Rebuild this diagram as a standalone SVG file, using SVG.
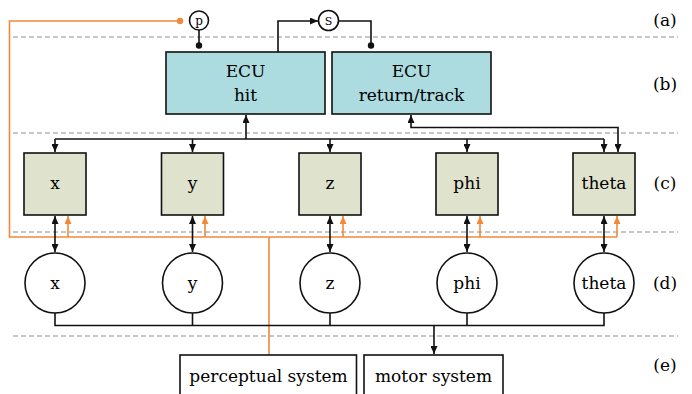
<svg xmlns="http://www.w3.org/2000/svg" width="692" height="394" viewBox="0 0 692 394">
<style>
text{font-family:'DejaVu Serif','Liberation Serif',serif;font-size:17px;fill:#000;text-anchor:middle}
.small{font-size:12px}
.sep{stroke:#b4b4b4;stroke-width:1.3;stroke-dasharray:5 3;fill:none}
.ln{stroke:#111;stroke-width:1.6;fill:none}
.or{stroke:#f08a3a;stroke-width:1.6;fill:none}
.ecu{fill:#acdce0;stroke:#111;stroke-width:1.6}
.var{fill:#dfe2cc;stroke:#111;stroke-width:1.6}
.circ{fill:#fff;stroke:#111;stroke-width:1.6}
.sys{fill:#fff;stroke:#111;stroke-width:1.6}
</style>
<defs>
<marker id="a" markerUnits="userSpaceOnUse" markerWidth="9" markerHeight="7" refX="8" refY="3.5" orient="auto-start-reverse"><path d="M0,0 L8,3.5 L0,7 z" fill="#111"/></marker>
<marker id="ao" markerUnits="userSpaceOnUse" markerWidth="9" markerHeight="7" refX="8" refY="3.5" orient="auto-start-reverse"><path d="M0,0 L8,3.5 L0,7 z" fill="#f08a3a"/></marker>
</defs>
<g id="separators">
<line class="sep" x1="13" y1="37" x2="678" y2="37"/>
<line class="sep" x1="13" y1="133" x2="678" y2="133"/>
<line class="sep" x1="13" y1="232" x2="678" y2="232"/>
<line class="sep" x1="13" y1="336" x2="678" y2="336"/>
</g>
<g id="row-labels">
<text x="665" y="26">(a)</text>
<text x="665" y="90">(b)</text>
<text x="665" y="189">(c)</text>
<text x="665" y="289">(d)</text>
<text x="665" y="371">(e)</text>
</g>
<g id="connectors">
<path class="or" d="M180,21 H9.5 V237 H617"/>
<circle cx="180" cy="21" r="3.2" fill="#f08a3a"/>
<path class="or" d="M269,237 V355"/>
<path class="or" d="M68,237 V216" marker-end="url(#ao)"/>
<path class="or" d="M205,237 V216" marker-end="url(#ao)"/>
<path class="or" d="M343,237 V216" marker-end="url(#ao)"/>
<path class="or" d="M480,237 V216" marker-end="url(#ao)"/>
<path class="or" d="M617,237 V216" marker-end="url(#ao)"/>
<path class="ln" d="M199,30 V45"/>
<circle cx="199" cy="45.5" r="3.2" fill="#111"/>
<path class="ln" d="M278,52 V21 H318" marker-end="url(#a)"/>
<path class="ln" d="M338.5,21 H371 V45"/>
<circle cx="371" cy="45.5" r="3.2" fill="#111"/>
<path class="ln" d="M55,139 H604"/>
<path class="ln" d="M246,139 V115" marker-end="url(#a)"/>
<path class="ln" d="M55,139 V152" marker-end="url(#a)"/>
<path class="ln" d="M192.5,139 V152" marker-end="url(#a)"/>
<path class="ln" d="M330,139 V152" marker-end="url(#a)"/>
<path class="ln" d="M467,139 V152" marker-end="url(#a)"/>
<path class="ln" d="M604,139 V152" marker-end="url(#a)"/>
<path class="ln" d="M618,152 V127.5 H411 V115" marker-start="url(#a)" marker-end="url(#a)"/>
<path class="ln" d="M55,216 V252" marker-start="url(#a)" marker-end="url(#a)"/>
<path class="ln" d="M192.5,216 V252" marker-start="url(#a)" marker-end="url(#a)"/>
<path class="ln" d="M330,216 V252" marker-start="url(#a)" marker-end="url(#a)"/>
<path class="ln" d="M467,216 V252" marker-start="url(#a)" marker-end="url(#a)"/>
<path class="ln" d="M604,216 V252" marker-start="url(#a)" marker-end="url(#a)"/>
<path class="ln" d="M55,313 V325.5 H604 V313 M192.5,313 V325.5 M330,313 V325.5 M467,313 V325.5"/>
<path class="ln" d="M434,325.5 V354" marker-end="url(#a)"/>
</g>
<g id="p">
<circle class="circ" cx="199" cy="20.5" r="9.5"/>
<text class="small" x="199" y="24.5">p</text>
</g>
<g id="s">
<circle class="circ" cx="328.5" cy="20.5" r="10"/>
<text class="small" x="328.5" y="24.5" style="font-size:11px">S</text>
</g>
<g id="ecu-hit">
<rect class="ecu" x="166" y="52" width="159" height="62"/>
<text x="245.5" y="77">ECU</text>
<text x="245.5" y="101">hit</text>
</g>
<g id="ecu-return">
<rect class="ecu" x="332" y="52" width="159" height="62"/>
<text x="411.5" y="77">ECU</text>
<text x="411.5" y="101">return/track</text>
</g>
<g id="box-x"><rect class="var" x="24" y="153" width="62" height="62"/><text x="55" y="189">x</text></g>
<g id="box-y"><rect class="var" x="161.5" y="153" width="62" height="62"/><text x="192.5" y="189">y</text></g>
<g id="box-z"><rect class="var" x="299" y="153" width="62" height="62"/><text x="330" y="189">z</text></g>
<g id="box-phi"><rect class="var" x="436" y="153" width="62" height="62"/><text x="467" y="189">phi</text></g>
<g id="box-theta"><rect class="var" x="573" y="153" width="62" height="62"/><text x="604" y="189">theta</text></g>
<g id="c-x"><circle class="circ" cx="55" cy="283" r="30"/><text x="55" y="289">x</text></g>
<g id="c-y"><circle class="circ" cx="192.5" cy="283" r="30"/><text x="192.5" y="289">y</text></g>
<g id="c-z"><circle class="circ" cx="330" cy="283" r="30"/><text x="330" y="289">z</text></g>
<g id="c-phi"><circle class="circ" cx="467" cy="283" r="30"/><text x="467" y="289">phi</text></g>
<g id="c-theta"><circle class="circ" cx="604" cy="283" r="30"/><text x="604" y="289">theta</text></g>
<g id="perceptual">
<rect class="sys" x="180" y="355" width="176.5" height="50"/>
<text x="268.5" y="382">perceptual system</text>
</g>
<g id="motor">
<rect class="sys" x="364" y="355" width="139" height="50"/>
<text x="433.5" y="382">motor system</text>
</g>
</svg>
